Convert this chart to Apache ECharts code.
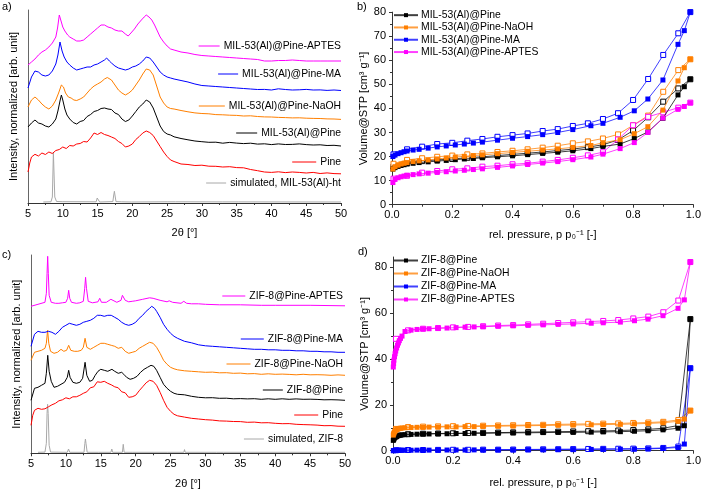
<!DOCTYPE html>
<html><head><meta charset="utf-8">
<script src="https://cdn.jsdelivr.net/npm/echarts@6/dist/echarts.min.js"></script>
<style>html,body{margin:0;padding:0;background:#fff}#c{width:704px;height:492px}</style>
</head><body><div id="c"></div>
<script>
// ---------- Panel a: XRD MIL-53(Al) (intensity in arbitrary units, offset) ----------
const aSim = [[7.2,1],[8.3,1.2],[8.5,6],[8.6,35],[8.65,51],[8.72,35],[8.85,6],[9.1,1.5],[10,1.3],[14.8,1.2],[14.95,5],[15.02,7],[15.1,4],[15.3,1],[17.2,1.4],[17.33,8],[17.42,11.7],[17.5,8],[17.65,1.4],[18.4,1.2],[18.5,2],[18.6,1],[19.9,1],[20.02,2.7],[20.12,1],[25,1.2],[25.1,1.8],[25.2,1],[26.2,1.2],[26.3,1.9],[26.4,1],[33,1.1],[33.1,1.6],[33.2,1],[35.3,1.1],[35.4,1.5],[35.5,1],[50,1]];
const aPine = [[5,31],[5.25,40],[5.5,46],[6,48.7],[6.5,47],[7,50],[7.5,48.5],[8,51],[8.5,49.5],[9,52.5],[9.5,53.5],[10,56],[10.5,54.5],[11,57.5],[11.5,57],[12,59],[12.5,59.5],[13,61.5],[13.5,61],[14,65],[14.5,70],[15,68.5],[15.5,70.5],[16,68.5],[16.5,67.5],[17,66],[17.5,64.5],[18,61.5],[18.5,59.5],[19,56],[19.5,57],[20,59],[20.5,63.5],[21,66.5],[21.5,70],[22,72],[22.5,70.5],[23,67.5],[23.5,62],[24,56.5],[24.5,51],[25,46.5],[25.5,43],[26,41.5],[27,39],[28,38.5],[29,37.5],[30,37.8],[31,36.8],[32,36.7],[33,36],[34,36.3],[35,35.4],[36,35.2],[37,33.5],[38,32.3],[39,31],[40,30.6],[41,31.2],[42,30.4],[43,31],[44,30.6],[45,30],[46,30.6],[47,29.5],[48,30.1],[49,29.4],[50,29.2]];
const aPineMIL = [[5,76],[5.5,80],[6,83],[6.5,80],[7,79],[7.5,77],[8,76],[8.5,79],[9,84],[9.3,92],[9.6,102],[9.8,108],[10,103],[10.3,94],[10.6,88],[11,84],[11.5,80.5],[12,79],[12.5,81.5],[13,82.5],[13.5,86.5],[14,88.5],[14.5,91.5],[15,92.5],[15.5,94.5],[16,95],[16.5,94],[17,93.5],[17.5,90],[18,88.5],[18.5,84],[19,81.5],[19.5,83],[20,87],[20.5,91.5],[21,96],[21.5,99],[22,103],[22.5,101],[23,95],[23.5,86],[24,77],[24.5,71.5],[25,69],[25.5,68],[26,66.2],[27,64.5],[28,63.2],[29,62],[30,61.3],[31,60.7],[32,60.8],[33,59.8],[34,60.6],[35,59.9],[36,59.4],[37,59.8],[38,58.9],[39,59.2],[40,58.4],[41,59.1],[42,58.5],[43,58.6],[44,59.1],[45,58.4],[46,58],[47,58.2],[48,57.5],[49,57.7],[50,57]];
const aNaOH = [[5,96],[5.5,103],[6,106],[6.5,103],[7,99],[7.5,96],[8,94],[8.5,97],[9,103],[9.4,110],[9.8,118],[10.1,116],[10.4,110],[10.8,106],[11.2,105],[11.6,103],[12,102.5],[12.5,104],[13,106],[13.5,110],[14,114],[14.5,117],[15,119],[15.5,121],[16,124],[16.4,125.5],[17,123],[17.5,118],[18,113],[18.5,110],[19,108],[19.5,110],[20,113],[20.5,118],[21,123],[21.5,129],[22,134],[22.5,133],[23,128],[23.5,117],[24,106],[24.5,100],[25,96],[25.5,94.5],[26,94],[27,92.5],[28,91.2],[29,90.1],[30,89.5],[31,89.2],[32,88.4],[33,88.2],[34,87.8],[35,87.6],[36,87],[37,87.2],[38,86.5],[39,86.1],[40,86],[41,85.6],[42,85.4],[43,85.1],[44,85.2],[45,84.8],[46,84.6],[47,84.5],[48,84.1],[49,84],[50,83.6]];
const aMA = [[5,115],[5.5,126],[6,132],[6.5,131],[7,128],[7.5,127],[8,128],[8.5,132],[9,139],[9.3,148],[9.6,161],[9.9,152],[10.2,146],[10.6,141],[11,138],[11.5,135],[12,133],[12.5,134],[13,135],[13.5,136],[14,136],[14.5,138],[15,139],[15.5,141],[16,143],[16.3,145],[16.7,142],[17,140],[17.5,137],[18,135],[18.5,134],[19,133],[19.5,134],[20,136],[20.5,137],[21,139],[21.5,142],[22,146],[22.5,145],[23,141],[23.5,136],[24,131],[24.5,128],[25,126],[25.5,125],[26,124],[27,122.5],[28,121],[29,119],[30,117.5],[31,117],[32,116.5],[33,116],[34,115.5],[35,115],[36,114.5],[37,114],[38,113.5],[39,113.6],[40,113],[41,114.2],[42,113.5],[43,113],[44,113.2],[45,113.6],[46,113],[47,113.1],[48,112.6],[49,113],[50,112.5]];
const aAPTES = [[5,138],[5.5,141],[6,144],[6.5,148],[7,151],[7.5,153],[8,156],[8.5,160],[9,166],[9.25,175],[9.5,188],[9.75,182],[10,176],[10.3,172],[10.7,168],[11,166],[11.5,164],[12,162],[12.5,162],[13,163],[13.5,166],[14,169],[14.5,172],[15,175],[15.5,178],[16,178],[16.5,176],[17,175],[17.5,173],[18,172],[18.5,172],[19,169],[19.4,167],[19.8,170],[20.3,174],[20.8,179],[21.3,183],[21.7,186],[22,188],[22.4,186],[22.8,183],[23.2,178],[23.6,172],[24,166],[24.5,161],[25,157],[25.5,154],[26,153],[27,151],[28,150],[29,148.5],[30,147.5],[31,147],[32,146.5],[33,146],[34,145.5],[35,145],[36,144.5],[37,144],[38,143.5],[39,142],[40,142],[41,142.5],[42,142.5],[43,143],[44,142.5],[45,142],[46,142],[47,142],[48,142],[49,142],[50,142]];

// ---------- Panel c: XRD ZIF-8 ----------
const cSim = [[6,1],[7,1.2],[7.2,10],[7.3,40],[7.38,49],[7.46,40],[7.6,8],[7.8,1.2],[10.2,1],[10.38,4.3],[10.55,1],[12.6,1],[12.72,10],[12.8,14.3],[12.88,10],[13.05,1],[14.7,1],[14.8,2],[14.9,1],[16.45,1],[16.58,4.3],[16.7,1],[18.1,1],[18.22,9],[18.35,1],[19.6,1],[19.7,1.8],[19.8,1],[22.2,1],[22.3,1.5],[22.4,1],[24.6,1],[24.7,1.5],[24.8,1],[26.9,1],[27.0,3.7],[27.1,1],[29.8,1],[29.9,1.6],[30.0,1],[30.8,1],[30.9,1.5],[31.0,1],[31.6,1],[31.7,1.4],[31.8,1],[32.6,1],[32.7,1.5],[32.8,1],[50,1]];
const cPine = [[5,28],[5.25,38],[5.5,43],[6,45],[6.5,44],[7,44.5],[7.5,46.5],[8,48.5],[8.5,50],[9,52.5],[9.5,53.5],[10,55.5],[10.5,54.5],[11,56.5],[11.5,56.5],[12,58],[12.5,60],[13,61.5],[13.5,65.5],[14,66.5],[14.5,71.5],[15,71],[15.5,72],[16,70],[16.5,68.5],[17,66.5],[17.5,65.5],[18,61.5],[18.5,60.5],[19,56],[19.5,56.5],[20,58],[20.5,62.5],[21,66.5],[21.5,70.5],[22,73],[22.5,72],[23,68],[23.5,61],[24,53],[24.5,46],[25,42],[25.5,39],[26,37.5],[27,36.2],[28,35],[29,34.3],[30,33.6],[31,33.2],[32,32.4],[33,32.2],[34,31.8],[35,31.7],[36,31],[37,31.2],[38,30.5],[39,30.6],[40,30],[41,29.6],[42,29.7],[43,29],[44,28.7],[45,28.5],[46,28.2],[47,27.6],[48,27.7],[49,27.1],[50,27]];
const cPineZIF = [[5,53],[5.5,65],[6,66],[6.5,68],[7,70],[7.2,80],[7.4,98],[7.6,82],[7.9,72],[8.3,66],[8.8,67],[9.3,69],[9.8,71],[10.2,76],[10.4,83],[10.6,76],[11,71],[11.5,70],[12,71],[12.4,75],[12.75,91],[13,78],[13.4,72],[13.8,73],[14.2,78],[14.6,82],[15,84],[15.5,83],[16,82],[16.6,84],[17,82],[17.5,80],[18,81],[18.3,79],[18.7,76],[19.2,74],[19.7,75],[20.2,77],[20.7,81],[21.2,84],[21.7,86],[22.2,88],[22.6,87],[23,83],[23.5,76],[24,69],[24.5,65],[25,62],[25.5,60],[26,59],[27,58.5],[28,57],[29,56],[30,55.5],[31,55.6],[32,55],[33,55.1],[34,54.5],[35,54.7],[36,54.4],[37,54.6],[38,54],[39,54.5],[40,54],[41,54.5],[42,54],[43,54.4],[44,54],[45,54.1],[46,53.9],[47,53.5],[48,53.6],[49,53.4],[50,53]];
const cNaOH = [[5,93],[5.5,101],[6,102],[6.5,103],[7,105],[7.2,110],[7.38,123],[7.55,110],[7.8,102],[8.3,100],[8.8,101],[9.3,104],[9.7,102],[10.1,103],[10.4,108],[10.7,103],[11.2,102],[11.7,102],[12.2,103],[12.5,106],[12.75,115],[13,106],[13.5,104],[14,106],[14.5,108],[15,110],[15.5,110],[16,109],[16.5,108],[17,107],[17.5,105],[18,106],[18.5,102],[19,100],[19.5,101],[20,102],[20.5,105],[21,107],[21.5,109],[22,111],[22.5,110],[23,106],[23.5,100],[24,93],[24.5,89],[25,86],[25.5,84.5],[26,83.5],[27,82.5],[28,82],[29,81.5],[30,81],[31,81.2],[32,80.5],[33,80.6],[34,80],[35,80.2],[36,79.5],[37,79.7],[38,79],[39,79.5],[40,79],[41,79.2],[42,78.9],[43,78.5],[44,79],[45,78.5],[46,78.6],[47,78.4],[48,78],[49,78.4],[50,78]];
const cMA = [[5,107],[5.5,119],[6,122],[6.5,121],[7,121],[7.5,122],[8,121],[8.5,119],[9,122],[9.5,126],[10,128],[10.5,130],[11,129],[11.5,128],[12,129],[12.5,131],[13,132],[13.5,133],[14,135],[14.5,138],[15,138],[15.5,137],[16,138],[16.5,138],[17,136],[17.5,134],[18,131],[18.5,129],[19,128],[19.5,129],[20,131],[20.5,135],[21,138],[21.5,142],[22,145],[22.3,147],[22.7,145],[23,142],[23.5,136],[24,129],[24.5,124],[25,120],[25.5,117],[26,115],[27,112],[28,110.5],[29,108.5],[30,107.5],[31,107],[32,106.5],[33,106],[34,105.5],[35,105],[36,104.5],[37,104],[38,104],[39,103.5],[40,103.5],[41,103],[42,103],[43,102.5],[44,102.5],[45,102],[46,102],[47,101.5],[48,101.5],[49,101],[50,101]];
const cAPTES = [[5,147],[6,149],[7,151],[7.2,160],[7.3,180],[7.39,197],[7.48,180],[7.6,158],[7.9,151],[8.5,150],[9,150],[9.5,150.5],[10,151],[10.25,155],[10.4,163],[10.55,155],[10.8,151],[11.5,150],[12,150.5],[12.5,152],[12.7,165],[12.82,176],[12.95,165],[13.2,152],[13.8,150.5],[14.6,151.5],[14.85,155],[15.1,151],[15.8,151],[16.45,154],[16.7,152],[17.3,151],[17.9,153],[18.1,158],[18.25,160],[18.5,153],[19,151.5],[19.5,152],[20,152.5],[21,154],[22,155.5],[22.5,155],[23.5,153],[24.5,151.5],[24.8,152.5],[25.3,151],[26.5,150],[26.9,152],[27.3,150],[28,149.5],[29,149.5],[30,149],[32,148.5],[35,148.5],[38,148],[40,148],[45,148],[50,147.5]];

// ---------- Panel b: isotherms MIL-53(Al) ----------
const bAdsP = [0.003,0.01,0.02,0.03,0.04,0.05,0.07,0.09,0.12,0.15,0.18,0.21,0.24,0.27,0.30,0.35,0.40,0.45,0.50,0.55,0.60,0.66,0.70,0.757,0.804,0.849,0.899,0.949,0.970,0.99];
const bDesP = [0.99,0.95,0.90,0.85,0.80,0.75,0.70,0.65,0.60,0.55,0.50,0.45,0.40,0.35,0.30,0.25,0.20,0.15,0.10,0.05,0.005];
const bPineAds  = [14.8,15.4,15.9,16.3,16.6,16.9,17.2,17.5,17.8,18.1,18.4,18.7,19.0,19.2,19.5,19.9,20.3,20.8,21.3,21.8,22.4,23.3,24.2,25.2,27.5,30.2,35.9,45.6,49.0,52.1];
const bNaOHAds  = [14.8,15.8,16.4,16.9,17.2,17.5,17.9,18.2,18.6,19.0,19.4,19.8,20.1,20.4,20.7,21.2,21.7,22.2,22.7,23.2,23.8,24.6,25.7,27.0,29.5,32.4,39.3,51.4,56.9,60.4];
const bMAAds    = [20.0,20.6,21.2,21.6,22.0,22.3,22.7,23.0,23.5,24.0,24.4,24.8,25.2,25.6,26.0,26.8,27.6,28.3,29.1,30.0,31.2,32.8,33.8,36.3,39.0,43.9,51.8,66.6,72.3,80.0];
const bAPTESAds = [9.2,10.5,11.2,11.6,11.9,12.2,12.5,12.8,13.1,13.4,13.7,14.0,14.3,14.6,14.9,15.5,16.1,16.7,17.3,17.9,18.7,19.8,21.0,23.3,25.8,30.0,36.0,39.6,40.8,42.3];
const bPineDes  = [52.1,48.3,42.8,36.3,30.8,26.9,24.9,23.9,23.1,22.5,21.9,21.4,20.9,20.4,19.9,19.5,19.0,18.6,18.1,17.3,15.8];
const bNaOHDes  = [60.4,55.9,46.9,37.0,33.0,29.2,27.5,26.3,25.5,24.5,23.7,23.0,22.4,21.9,21.3,20.9,20.4,19.9,19.3,18.6,17.0];
const bMADes    = [80.0,71.2,62.2,52.2,43.5,38.0,35.6,33.8,32.7,31.4,30.6,29.6,28.9,28.2,27.3,26.6,25.7,25.2,24.1,23.0,20.9];
const bAPTESDes = [42.4,40.3,38.4,36.5,33.0,27.1,21.8,20.5,19.5,18.6,17.9,17.2,16.8,16.2,15.8,15.1,14.7,14.0,13.3,12.0,10.8];

// ---------- Panel d: isotherms ZIF-8 ----------
const dAdsP = [0.001,0.002,0.003,0.005,0.007,0.009,0.012,0.015,0.018,0.021,0.025,0.03,0.04,0.06,0.08,0.10,0.12,0.15,0.18,0.21,0.24,0.27,0.30,0.35,0.40,0.45,0.50,0.55,0.60,0.66,0.70,0.757,0.804,0.849,0.899,0.949,0.970,0.99];
const dDesP = [0.99,0.95,0.90,0.85,0.80,0.75,0.70,0.65,0.60,0.55,0.50,0.45,0.40,0.35,0.30,0.25,0.20,0.15,0.10,0.05,0.01];
const dPineAds  = [4.5,4.9,5.2,5.6,5.9,6.1,6.3,6.5,6.6,6.7,6.8,6.9,7.0,7.1,7.2,7.3,7.3,7.4,7.4,7.5,7.5,7.6,7.6,7.7,7.8,7.8,7.9,8.0,8.0,8.1,8.2,8.3,8.5,8.7,9.1,9.8,10.9,57.4];
const dNaOHAds  = [6.8,7.3,7.7,8.2,8.6,8.9,9.2,9.4,9.6,9.7,9.8,9.9,10.0,10.1,10.2,10.2,10.3,10.3,10.4,10.4,10.5,10.5,10.6,10.7,10.8,10.9,11.0,11.1,11.2,11.3,11.4,11.5,11.7,11.9,12.2,12.8,13.8,17.5];
const dMAAds    = [0.0,0.05,0.1,0.1,0.1,0.15,0.15,0.15,0.2,0.2,0.2,0.2,0.2,0.2,0.25,0.25,0.25,0.3,0.3,0.3,0.3,0.35,0.35,0.4,0.4,0.45,0.45,0.5,0.5,0.55,0.6,0.65,0.7,0.8,1.0,1.4,2.9,36.0];
const dAPTESAds = [36.5,38.0,39.5,41.0,42.3,43.5,44.8,46.0,47.0,48.0,49.0,50.0,52.0,52.6,52.9,53.1,53.2,53.4,53.5,53.7,53.9,54.0,54.1,54.3,54.5,54.7,54.9,55.1,55.3,55.6,55.8,56.1,56.7,57.4,58.9,62.1,65.8,82.3];
const dPineDes  = [57.4,11.0,9.8,9.3,9.0,8.8,8.6,8.5,8.4,8.3,8.2,8.1,8.0,7.9,7.8,7.7,7.6,7.5,7.4,7.2,6.3];
const dNaOHDes  = [17.5,13.4,12.6,12.3,12.1,11.9,11.8,11.7,11.6,11.5,11.3,11.2,11.1,11.0,10.9,10.8,10.7,10.6,10.5,10.3,9.5];
const dMADes    = [36.0,1.8,1.2,1.0,0.9,0.85,0.8,0.75,0.7,0.65,0.6,0.55,0.5,0.45,0.45,0.4,0.4,0.35,0.3,0.3,0.2];
const dAPTESDes = [82.3,65.5,60.4,58.5,57.7,57.0,56.6,56.3,56.0,55.7,55.4,55.1,54.8,54.6,54.3,54.0,53.8,53.5,53.2,52.5,48.8];

const bNames = ['MIL-53(Al)@Pine','MIL-53(Al)@Pine-NaOH','MIL-53(Al)@Pine-MA','MIL-53(Al)@Pine-APTES'];
const dNames = ['ZIF-8@Pine','ZIF-8@Pine-NaOH','ZIF-8@Pine-MA','ZIF-8@Pine-APTES'];

const C = {black:'#000000', orange:'#ff7f00', blue:'#0000ff', magenta:'#ff00ff', red:'#ff0000', gray:'#a8a8a8'};
const FONT = '"Liberation Sans", Arial, sans-serif';
const AX = '#333';
const LFS = 10.4; // label/legend font size

function zip(p, v){ return p.map((x,i)=>[x, v[i]]); }

function xrdX(gi, gap){
  return {gridIndex:gi, type:'value', min:5, max:50, interval:5,
    axisLine:{lineStyle:{color:AX,width:1}}, axisTick:{length:3,lineStyle:{color:AX}},
    minorTick:{show:true,splitNumber:2,length:2,lineStyle:{color:AX}},
    splitLine:{show:false}, axisLabel:{fontSize:11,color:'#000',fontFamily:FONT,margin:5},
    name:'2θ [°]', nameLocation:'middle', nameGap:gap, nameTextStyle:{fontSize:11,color:'#000',fontFamily:FONT}};
}
function xrdY(gi, max){
  return {gridIndex:gi, type:'value', min:0, max:max,
    axisLine:{show:true,lineStyle:{color:'#666',width:1}}, axisTick:{show:false}, axisLabel:{show:false},
    splitLine:{show:false},
    name:'Intensity, normalized [arb. unit]', nameLocation:'middle', nameGap:9,
    nameTextStyle:{fontSize:11,color:'#000',fontFamily:FONT}};
}
function isoX(gi, gap){
  return {gridIndex:gi, type:'value', min:0, max:1, interval:0.2,
    axisLine:{lineStyle:{color:AX,width:1}}, axisTick:{length:3,lineStyle:{color:AX}},
    minorTick:{show:true,splitNumber:2,length:2,lineStyle:{color:AX}},
    splitLine:{show:false},
    axisLabel:{fontSize:11,color:'#000',fontFamily:FONT,margin:5,formatter:v=>v.toFixed(1)},
    name:'rel. pressure, p p₀⁻¹ [-]', nameLocation:'middle', nameGap:gap,
    nameTextStyle:{fontSize:11,color:'#000',fontFamily:FONT}};
}
function isoY(gi, max, interval, ticks){
  return {gridIndex:gi, type:'value', min:0, max:max, interval:interval,
    axisLine:{show:true,lineStyle:{color:AX,width:1}},
    axisTick:{show:true,length:3,lineStyle:{color:AX},customValues:ticks},
    minorTick:{show:true,splitNumber:2,length:2,lineStyle:{color:AX}},
    splitLine:{show:false},
    axisLabel:{fontSize:11,color:'#000',fontFamily:FONT,margin:6,customValues:ticks,
      formatter:v=> (ticks.indexOf(v)>=0 ? String(v) : '')},
    name:'Volume@STP [cm³ g⁻¹]', nameLocation:'middle', nameGap:22,
    nameTextStyle:{fontSize:11,color:'#000',fontFamily:FONT}};
}

function xrdSeries(gi, data, color){
  return {type:'line', xAxisIndex:gi, yAxisIndex:gi, data:data, symbol:'none', showSymbol:false,
    lineStyle:{color:color,width:1}, itemStyle:{color:color}, silent:true, z:3};
}
function isoSeries(gi, name, data, color, filled){
  return {type:'line', name:name, xAxisIndex:gi, yAxisIndex:gi, data:data,
    symbol:'rect', symbolSize:5, showAllSymbol:true, clip:false,
    lineStyle:{color:color,width:1,opacity:0.75},
    itemStyle: filled ? {color:color, borderColor:color, borderWidth:0} : {color:'#ffffff', borderColor:color, borderWidth:1},
    silent:true, z: filled?4:3};
}

const bCols = [C.black, C.orange, C.blue, C.magenta];
const bAds = [bPineAds,bNaOHAds,bMAAds,bAPTESAds];
const bDes = [bPineDes,bNaOHDes,bMADes,bAPTESDes];
const dAds = [dPineAds,dNaOHAds,dMAAds,dAPTESAds];
const dDes = [dPineDes,dNaOHDes,dMADes,dAPTESDes];

const series = [];
series.push(xrdSeries(0, aSim, C.gray));
series.push(xrdSeries(0, aPine, C.red));
series.push(xrdSeries(0, aPineMIL, C.black));
series.push(xrdSeries(0, aNaOH, C.orange));
series.push(xrdSeries(0, aMA, C.blue));
series.push(xrdSeries(0, aAPTES, C.magenta));
series.push(xrdSeries(2, cSim, C.gray));
series.push(xrdSeries(2, cPine, C.red));
series.push(xrdSeries(2, cPineZIF, C.black));
series.push(xrdSeries(2, cNaOH, C.orange));
series.push(xrdSeries(2, cMA, C.blue));
series.push(xrdSeries(2, cAPTES, C.magenta));
for (let i=0;i<4;i++){
  series.push(isoSeries(1, bNames[i], zip(bAdsP,bAds[i]), bCols[i], true));
  series.push(isoSeries(1, bNames[i]+' des', zip(bDesP,bDes[i]), bCols[i], false));
  series.push(isoSeries(3, dNames[i], zip(dAdsP,dAds[i]), bCols[i], true));
  series.push(isoSeries(3, dNames[i]+' des', zip(dDesP,dDes[i]), bCols[i], false));
}

// XRD curve labels: [text, y, colour, sample line length]
const aLabels = [
  ['MIL-53(Al)@Pine-APTES', 46, C.magenta, 21],
  ['MIL-53(Al)@Pine-MA', 74, C.blue, 20],
  ['MIL-53(Al)@Pine-NaOH', 106, C.orange, 26],
  ['MIL-53(Al)@Pine', 133, C.black, 21],
  ['Pine', 162, C.red, 24],
  ['simulated, MIL-53(Al)-ht', 183, C.gray, 20]
];
const cLabels = [
  ['ZIF-8@Pine-APTES', 296, C.magenta, 23],
  ['ZIF-8@Pine-MA', 339, C.blue, 23],
  ['ZIF-8@Pine-NaOH', 364, C.orange, 24],
  ['ZIF-8@Pine', 390, C.black, 20],
  ['Pine', 415, C.red, 24],
  ['simulated, ZIF-8', 439, C.gray, 20]
];
const mctx = document.createElement('canvas').getContext('2d');
mctx.font = LFS + 'px ' + FONT;
const graphics = [];
function addLabels(list, xr){
  list.forEach(l=>{
    const w = mctx.measureText(l[0]).width;
    const x2 = xr - w - 4;
    graphics.push({type:'line', shape:{x1:x2-l[3],y1:l[1],x2:x2,y2:l[1]}, style:{stroke:l[2],lineWidth:1}, silent:true});
    graphics.push({type:'text', x:xr, y:l[1], style:{text:l[0], align:'right', verticalAlign:'middle', font:LFS+'px '+FONT, fill:'#000'}, silent:true});
  });
}
addLabels(aLabels, 341);
addLabels(cLabels, 343);
[['a)',2,7],['b)',357,7],['c)',2,255],['d)',358,252]].forEach(p=>{
  graphics.push({type:'text', x:p[1], y:p[2], style:{text:p[0], align:'left', verticalAlign:'middle', font:'11px '+FONT, fill:'#000'}, silent:true});
});

function legendCfg(names, top, lh){
  return {data:names, orient:'vertical', left:393, top:top, itemWidth:24, itemHeight:5, itemGap:0,
    textStyle:{fontSize:LFS, color:'#000', fontFamily:FONT, lineHeight:lh, padding:[0,0,0,-2]}, selectedMode:false, padding:0};
}

const option = {
  animation:false,
  backgroundColor:'#fff',
  grid:[
    {left:28, top:10, width:313, height:193},
    {left:392, top:12.1, width:302.3, height:192.6},
    {left:31, top:255, width:314, height:198.3},
    {left:393, top:257, width:303, height:193.7}
  ],
  xAxis:[xrdX(0,24), isoX(1,25), xrdX(2,25), isoX(3,27)],
  yAxis:[xrdY(0,193), isoY(1,80,10,[0,10,20,30,40,50,60,70,80]), xrdY(2,198.3), isoY(3,84.5,20,[0,20,40,60,80])],
  legend:[legendCfg(bNames, 9, 12.3), legendCfg(dNames, 254, 13)],
  series:series,
  graphic:graphics
};
const chart = echarts.init(document.getElementById('c'), null, {renderer:'canvas'});
chart.setOption(option);
</script>
</body></html>
